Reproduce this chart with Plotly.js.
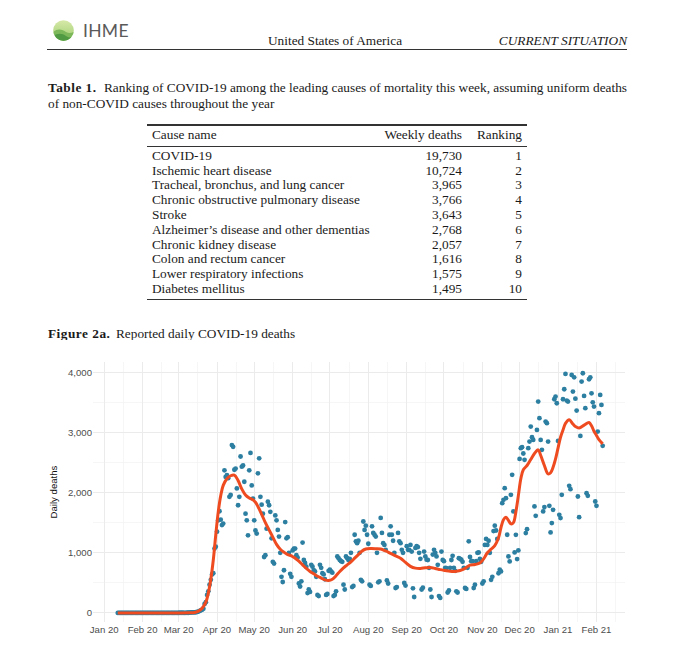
<!DOCTYPE html>
<html>
<head>
<meta charset="utf-8">
<script src="https://cdn.plot.ly/plotly-3.0.1.min.js"></script>
<style>
html,body{margin:0;padding:0;background:#fff;}
#page{position:relative;width:680px;height:665px;overflow:hidden;font-family:"Liberation Serif","Times New Roman",serif;color:#1a1a1a;}
.t{position:absolute;white-space:nowrap;line-height:16px;font-size:13.3px;}
.rule{position:absolute;background:#333;}
#chart{position:absolute;left:0;top:340px;width:680px;height:325px;}
</style>
</head>
<body>
<div id="page">
  <svg style="position:absolute;left:52px;top:19px" width="23" height="23" viewBox="0 0 23 23">
    <defs>
      <linearGradient id="lg" x1="0" y1="0" x2="0" y2="1">
        <stop offset="0" stop-color="#d7e9a8"/>
        <stop offset="1" stop-color="#9ccc6e"/>
      </linearGradient>
      <clipPath id="cc"><circle cx="11.5" cy="11.5" r="10.3"/></clipPath>
    </defs>
    <circle cx="11.5" cy="11.5" r="10.3" fill="url(#lg)"/>
    <g clip-path="url(#cc)">
      <path d="M0 14 C5 9 10 10 14 13 C17 15 20 14 23 12 L23 23 L0 23 Z" fill="#7db85a"/>
      <path d="M0 18 C5 14 10 14 14 17 C17 19 20 19 23 17 L23 23 L0 23 Z" fill="#4f9a43"/>
    </g>
  </svg>
  <div class="t" style="left:83px;top:21px;font-family:Lato,'Open Sans',sans-serif;font-size:17.5px;line-height:20px;color:#5a5a5a;letter-spacing:0.3px;">IHME</div>
  <div class="t" style="left:268px;top:33px;">United States of America</div>
  <div class="t" style="right:53px;top:33px;font-style:italic;">CURRENT SITUATION</div>
  <div class="rule" style="left:47px;top:49px;width:580px;height:1px;"></div>

  <div class="t" style="left:48px;top:80px;font-weight:bold;letter-spacing:0.5px;">Table 1.</div>
  <div class="t" style="left:104px;top:80px;width:523px;white-space:normal;text-align:justify;text-align-last:justify;">Ranking of COVID-19 among the leading causes of mortality this week, assuming uniform deaths</div>
  <div class="t" style="left:48px;top:96px;">of non-COVID causes throughout the year</div>

  <div id="table"></div>

  <div class="t" style="left:48px;top:326px;font-weight:bold;letter-spacing:0.5px;">Figure 2a.</div>
  <div class="t" style="left:116px;top:326px;">Reported daily COVID-19 deaths</div>

  <div id="chart"></div>
</div>
<script>
// ---------- Table data ----------
const causeNames = [
  "COVID-19",
  "Ischemic heart disease",
  "Tracheal, bronchus, and lung cancer",
  "Chronic obstructive pulmonary disease",
  "Stroke",
  "Alzheimer\u2019s disease and other dementias",
  "Chronic kidney disease",
  "Colon and rectum cancer",
  "Lower respiratory infections",
  "Diabetes mellitus"
];
const weeklyDeaths = [19730, 10724, 3965, 3766, 3643, 2768, 2057, 1616, 1575, 1495];
const rankings = [1, 2, 3, 4, 5, 6, 7, 8, 9, 10];
const tableHeaders = ["Cause name", "Weekly deaths", "Ranking"];

// ---------- Chart data ----------
const seriesStart = "2020-01-12";  // first reported day (a Sunday); one value per day
const dailyDeaths = [
  0,0,0,0,0,0,0,
  0,0,0,0,0,0,0,
  0,0,0,0,0,0,0,
  0,0,0,0,0,0,0,
  0,0,0,0,0,0,0,
  0,0,0,0,0,0,0,
  0,0,0,0,0,0,1,
  1,4,1,4,2,1,2,
  4,4,6,8,9,11,10,
  12,18,23,34,44,54,70,
  150,180,300,360,470,550,640,
  660,1070,1100,1350,1540,1690,1550,
  1460,1485,2370,2260,2290,2240,1930,
  1960,2790,2760,2380,2400,2070,1790,
  1930,2600,2430,2450,2180,1650,1540,
  1290,2370,2660,2120,1900,1540,1370,
  1320,2320,2570,1930,1800,1650,930,
  960,1400,1850,1790,1680,1240,850,
  820,1620,1540,1380,1270,1000,600,
  515,710,1510,1240,1260,1000,650,
  600,1040,1070,1070,960,920,490,
  440,525,1170,880,830,770,330,
  390,350,800,770,710,690,600,
  300,280,800,750,660,640,560,
  300,315,700,720,690,670,280,
  300,360,940,910,880,860,850,
  470,390,940,910,880,900,1000,
  430,450,1300,1190,1160,1200,1000,
  550,525,1520,1380,1450,1300,1150,
  470,450,1440,1330,1300,1270,1000,
  510,525,1580,1330,1160,1130,1050,
  540,490,1300,1440,1300,1200,1000,
  415,430,1330,1190,1160,1050,1000,
  500,455,1110,1050,1050,1130,1020,
  410,265,1080,1110,1095,1000,900,
  390,420,1020,940,885,880,750,
  390,265,970,1050,1000,940,800,
  280,250,1020,880,860,750,745,
  340,375,750,880,950,750,700,
  360,340,910,900,885,850,750,
  415,400,750,1190,930,860,860,
  415,470,860,1000,1005,900,850,
  490,525,1130,1230,1130,1200,1000,
  550,600,1360,1450,1370,1230,660,
  720,690,1825,1880,2074,1908,1300,
  940,857,1963,2295,1687,1006,1299,
  895,1039,2560,2738,2754,2650,2544,
  1327,1393,2738,2848,3097,2920,2876,
  1770,1614,3042,3512,3236,2876,2710,
  1687,1759,3180,3153,2848,1781,1338,
  1493,1714,3551,3595,3485,2859,1631,
  1576,1963,3551,3717,3972,3529,3512,
  2113,2057,3955,3678,3916,3560,3363,
  1935,1592,2942,3844,3983,3606,3402,
  1991,1947,3883,3916,3650,3500,3429,
  1852,1781,3014,3319,3623,3457,2777
];

const smoothDates = [
  "2020-01-12","2020-02-10","2020-03-01","2020-03-10","2020-03-14","2020-03-17","2020-03-20",
  "2020-03-23","2020-03-25","2020-03-27","2020-03-29","2020-03-31","2020-04-02","2020-04-04",
  "2020-04-06","2020-04-09","2020-04-12","2020-04-15","2020-04-18","2020-04-21","2020-04-24",
  "2020-04-27","2020-04-30","2020-05-02","2020-05-04","2020-05-07","2020-05-10","2020-05-13",
  "2020-05-16","2020-05-19","2020-05-22","2020-05-25","2020-05-28","2020-05-31","2020-06-03",
  "2020-06-06","2020-06-09","2020-06-12","2020-06-15","2020-06-18","2020-06-21","2020-06-24",
  "2020-06-27","2020-06-30","2020-07-03","2020-07-06","2020-07-09","2020-07-12","2020-07-15",
  "2020-07-18","2020-07-21","2020-07-24","2020-07-27","2020-07-30","2020-08-03","2020-08-07",
  "2020-08-11","2020-08-15","2020-08-19","2020-08-23","2020-08-27","2020-08-31","2020-09-04",
  "2020-09-08","2020-09-12","2020-09-16","2020-09-20","2020-09-24","2020-09-28","2020-10-02",
  "2020-10-06","2020-10-10","2020-10-14","2020-10-18","2020-10-22","2020-10-26","2020-10-30",
  "2020-11-02","2020-11-05","2020-11-08","2020-11-11","2020-11-14","2020-11-16","2020-11-18",
  "2020-11-20","2020-11-22","2020-11-24","2020-11-26","2020-11-28","2020-11-30","2020-12-02",
  "2020-12-04","2020-12-07","2020-12-10","2020-12-13","2020-12-16","2020-12-18","2020-12-21",
  "2020-12-24","2020-12-26","2020-12-28","2020-12-30","2021-01-01","2021-01-03","2021-01-05",
  "2021-01-07","2021-01-10","2021-01-13","2021-01-15","2021-01-18","2021-01-22","2021-01-26",
  "2021-01-28","2021-01-30","2021-02-01","2021-02-03","2021-02-06"
];
const smoothDeaths = [
  0,0,0,2,8,30,80,
  180,330,560,880,1300,1680,1950,
  2120,2230,2280,2290,2200,2060,1960,
  1910,1880,1840,1770,1640,1500,1380,
  1260,1140,1060,1010,970,950,910,
  860,800,740,690,650,610,580,
  550,540,560,620,690,750,800,
  850,910,970,1030,1062,1070,1068,
  1062,1030,990,950,910,840,775,
  745,740,750,757,740,720,705,
  692,690,705,740,795,805,830,
  900,1000,1060,1120,1250,1420,1550,
  1590,1540,1480,1500,1680,1950,2230,
  2380,2450,2550,2650,2710,2620,2450,
  2310,2330,2420,2560,2740,2920,3040,
  3150,3210,3140,3100,3075,3120,3165,
  3110,3020,2950,2880,2810
];

const yTickVals = [0, 1000, 2000, 3000, 4000];
const yTickText = ["0", "1,000", "2,000", "3,000", "4,000"];

// ---------- Build table ----------
(function(){
  const tbl = document.getElementById('table');
  function add(txt, style){
    const d = document.createElement('div');
    d.className = 't';
    d.style.cssText = style;
    d.textContent = txt;
    tbl.appendChild(d);
  }
  function rule(top, h){
    const d = document.createElement('div');
    d.className = 'rule';
    d.style.cssText = 'left:147px;width:380px;top:' + top + 'px;height:' + h + 'px;';
    tbl.appendChild(d);
  }
  rule(124.4, 1.2);
  add(tableHeaders[0], 'left:152px;top:127px;');
  add(tableHeaders[1], 'right:218px;top:127px;');
  add(tableHeaders[2], 'right:158px;top:127px;');
  rule(145.6, 0.7);
  causeNames.forEach(function(name, i){
    const top = 147.7 + i * 14.8;
    add(name, 'left:152px;top:' + top + 'px;');
    add(weeklyDeaths[i].toLocaleString('en-US'), 'right:218px;top:' + top + 'px;');
    add(String(rankings[i]), 'right:158px;top:' + top + 'px;');
  });
  rule(298.6, 1.2);
})();

// ---------- Build chart ----------
const dailyDates = dailyDeaths.map(function(_, i){
  const d = new Date(seriesStart + "T00:00:00Z");
  d.setUTCDate(d.getUTCDate() + i);
  return d.toISOString().slice(0, 10);
});

const traces = [
  {
    type: 'scatter', mode: 'markers',
    x: dailyDates, y: dailyDeaths,
    marker: {color: '#2d7fa1', size: 4.8},
    hoverinfo: 'skip', showlegend: false
  },
  {
    type: 'scatter', mode: 'lines',
    x: smoothDates, y: smoothDeaths,
    line: {color: '#ef4b21', width: 3, shape: 'spline', smoothing: 1},
    hoverinfo: 'skip', showlegend: false
  }
];

const layout = {
  width: 680, height: 325,
  margin: {l: 93, r: 55, t: 22, b: 43, pad: 0},
  paper_bgcolor: '#fff', plot_bgcolor: '#fff',
  font: {family: 'Liberation Sans, Arial, sans-serif', size: 9.6, color: '#4d4d4d'},
  showlegend: false,
  xaxis: {
    type: 'date',
    range: ['2019-12-23', '2021-02-24'],
    tick0: '2020-01-01', dtick: 'M1', tickformat: '%b %y',
    showgrid: true, gridcolor: '#ebebeb', gridwidth: 1,
    minor: {tick0: '2019-12-16 12:00', dtick: 'M1', showgrid: true, gridcolor: '#f2f2f2', gridwidth: 0.7},
    zeroline: false, showline: false, ticks: '',
    tickfont: {size: 9.6, color: '#4d4d4d'},
    fixedrange: true
  },
  yaxis: {
    range: [-150, 4170],
    tickmode: 'array', tickvals: yTickVals, ticktext: yTickText,
    showgrid: true, gridcolor: '#ebebeb', gridwidth: 1,
    minor: {dtick: 500, tick0: 0, showgrid: true, gridcolor: '#f2f2f2', gridwidth: 0.7},
    zeroline: false, showline: false, ticks: '',
    tickfont: {size: 9.6, color: '#4d4d4d'},
    title: {text: 'Daily deaths', font: {size: 9.6, color: '#111'}, standoff: 8},
    fixedrange: true
  }
};

Plotly.newPlot('chart', traces, layout, {displayModeBar: false, staticPlot: true});
</script>
</body>
</html>
